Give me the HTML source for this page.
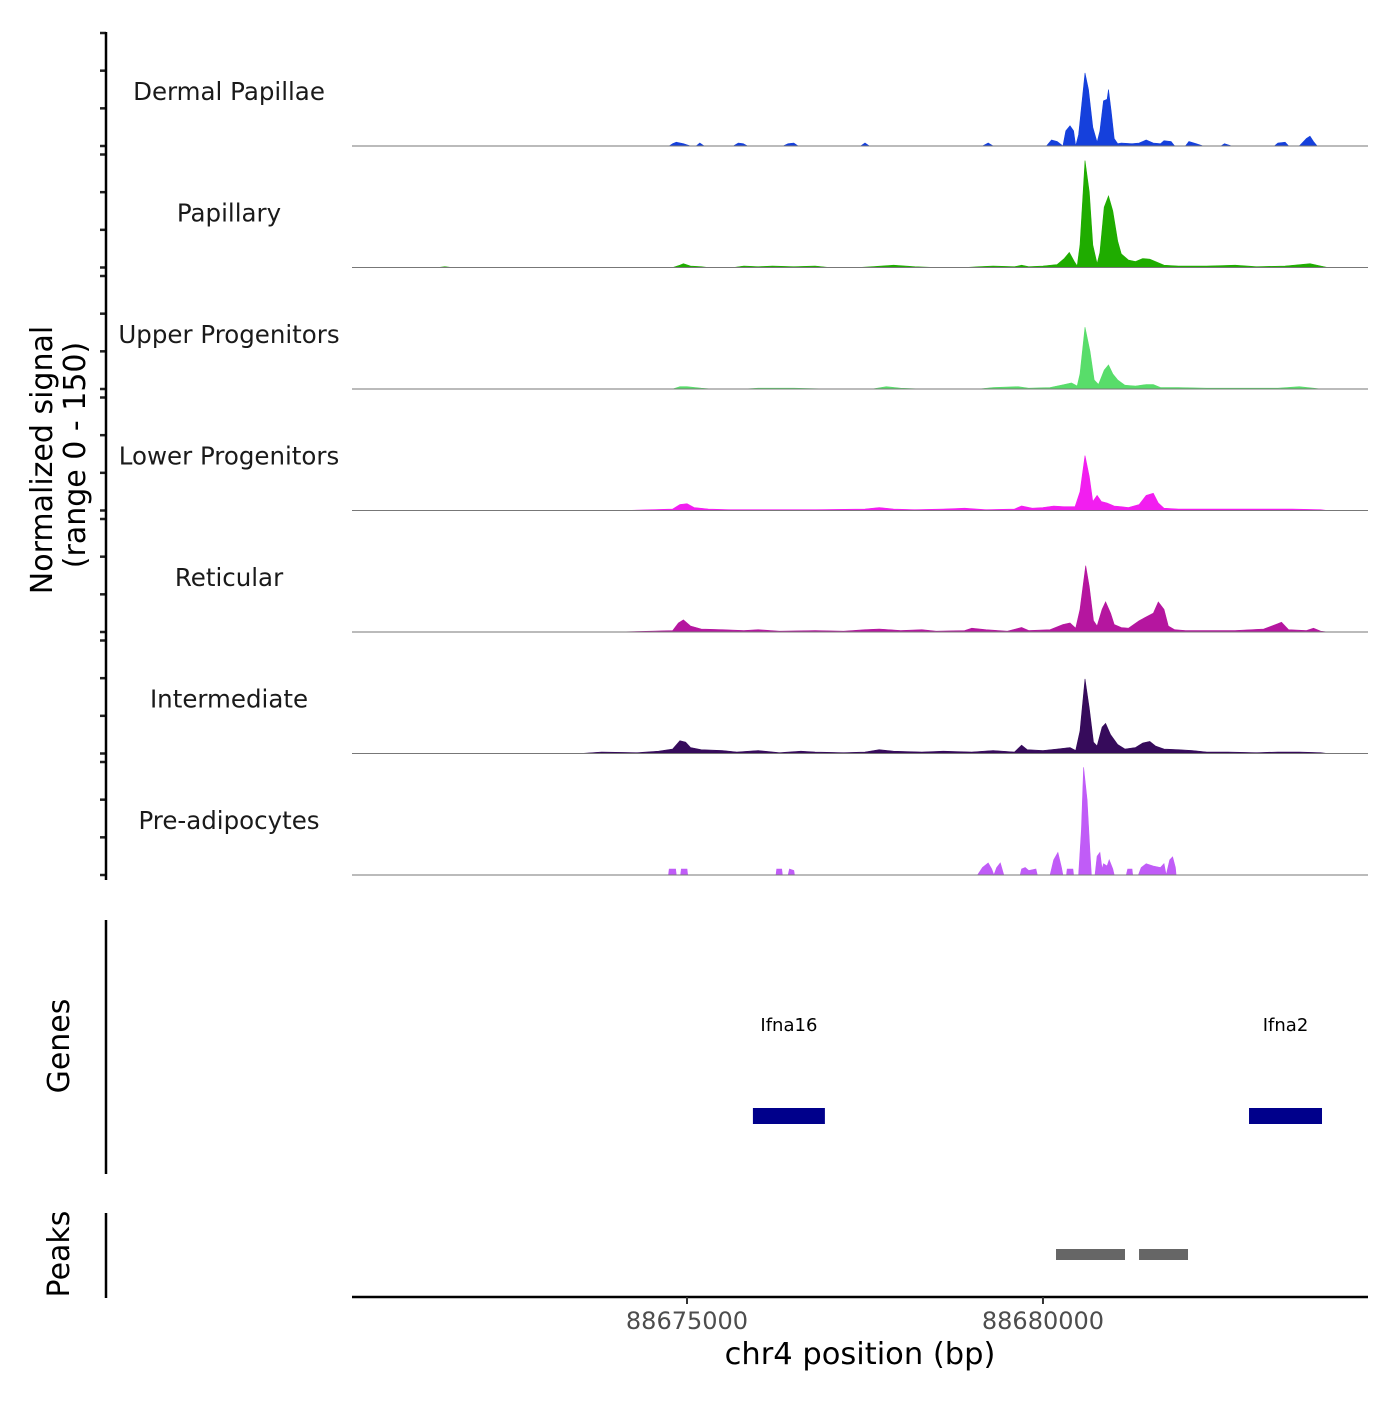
<!DOCTYPE html>
<html><head><meta charset="utf-8"><style>
body{margin:0;background:#fff}
svg{font-family:"DejaVu Sans","Liberation Sans",sans-serif}
</style></head><body>
<svg id="chart" width="1400" height="1400" viewBox="0 0 1400 1400">
<g id="tracks"></g>
<g id="axes"></g>
</svg>
<script>
const trackNames = ["Dermal Papillae","Papillary","Upper Progenitors","Lower Progenitors","Reticular","Intermediate","Pre-adipocytes"];
const trackColors = ["#1540dc","#1fac00","#58dd6a","#f21ef0","#b5169f","#360b5b","#c05cf7"];
const yTicks = [0,50,100,150];
const xTicks = [88675000,88680000];
const xDomain = [88670295,88684565];
const yMax = 150;
const dermal = [[88674750,0],[88674800,3],[88674850,5],[88674950,3],[88675050,0],[88675130,0],[88675180,4],[88675240,0],[88675650,0],[88675720,4],[88675790,3],[88675850,0],[88676350,0],[88676420,3],[88676500,4],[88676560,0],[88677440,0],[88677500,4],[88677560,0],[88679150,0],[88679230,4],[88679300,0],[88680050,0],[88680120,8],[88680200,6],[88680280,0],[88680320,20],[88680380,27],[88680430,20],[88680460,0],[88680500,15],[88680590,97],[88680640,75],[88680700,25],[88680760,5],[88680800,20],[88680850,60],[88680900,62],[88680920,75],[88680960,45],[88681000,10],[88681050,3],[88681100,4],[88681250,3],[88681350,4],[88681450,8],[88681550,4],[88681650,3],[88681700,7],[88681800,6],[88681850,0],[88682000,0],[88682050,6],[88682150,3],[88682250,0],[88682500,0],[88682550,3],[88682650,0],[88683250,0],[88683300,4],[88683400,5],[88683450,0],[88683600,0],[88683650,5],[88683700,10],[88683750,13],[88683800,6],[88683850,0]];
const papillary = [[88671500,0],[88671600,1],[88671700,0],[88674800,0],[88674900,3],[88674950,5],[88675050,2],[88675200,1],[88675300,0],[88675650,0],[88675800,2],[88676000,1],[88676200,2],[88676500,1],[88676800,2],[88677000,0],[88677400,0],[88677600,1],[88677900,3],[88678200,1],[88678500,0],[88678900,0],[88679100,1],[88679300,2],[88679600,1],[88679700,3],[88679800,1],[88680000,2],[88680200,4],[88680300,12],[88680370,20],[88680440,8],[88680480,2],[88680520,30],[88680590,142],[88680650,100],[88680700,30],[88680760,5],[88680800,20],[88680860,80],[88680920,95],[88680980,75],[88681050,35],[88681100,18],[88681200,10],[88681300,8],[88681400,12],[88681500,11],[88681600,7],[88681700,3],[88681900,2],[88682300,2],[88682700,3],[88683000,1],[88683400,2],[88683750,5],[88683900,2],[88684000,0]];
const upper = [[88674800,0],[88674900,3],[88675000,3],[88675200,1],[88675350,0],[88675800,0],[88676000,1],[88676500,1],[88677000,0],[88677600,0],[88677800,3],[88678000,1],[88678300,0],[88679100,0],[88679300,2],[88679650,3],[88679800,1],[88680100,2],[88680300,6],[88680400,8],[88680480,4],[88680520,20],[88680590,82],[88680660,50],[88680720,12],[88680780,6],[88680860,25],[88680920,32],[88680980,20],[88681050,12],[88681150,5],[88681300,4],[88681450,6],[88681550,6],[88681650,2],[88681900,2],[88682300,1],[88682800,1],[88683300,1],[88683600,3],[88683800,1],[88683900,0]];
const lower = [[88674100,0],[88674500,1],[88674800,2],[88674900,8],[88675000,9],[88675100,4],[88675300,2],[88675600,1],[88676200,1],[88676800,1],[88677500,2],[88677700,4],[88677900,2],[88678200,1],[88678600,2],[88678900,3],[88679200,1],[88679600,2],[88679700,6],[88679850,3],[88680000,4],[88680150,6],[88680300,5],[88680450,5],[88680520,25],[88680590,73],[88680650,45],[88680700,12],[88680760,20],[88680820,12],[88680900,10],[88681000,6],[88681100,5],[88681200,4],[88681350,8],[88681450,20],[88681550,23],[88681620,10],[88681700,3],[88681900,2],[88682300,2],[88682800,2],[88683200,2],[88683500,2],[88683900,1],[88684000,0]];
const reticular = [[88674000,0],[88674500,1],[88674800,2],[88674880,12],[88674950,16],[88675050,8],[88675200,4],[88675500,3],[88675800,2],[88676000,3],[88676300,1],[88676800,2],[88677200,1],[88677500,3],[88677700,4],[88678000,2],[88678300,3],[88678500,1],[88678900,2],[88679000,5],[88679200,3],[88679500,1],[88679700,6],[88679800,2],[88680100,3],[88680280,10],[88680380,12],[88680460,5],[88680520,30],[88680600,88],[88680650,60],[88680710,15],[88680760,8],[88680830,30],[88680880,40],[88680950,25],[88681000,10],[88681100,6],[88681200,5],[88681350,15],[88681450,20],[88681550,25],[88681620,40],[88681700,30],[88681760,8],[88681850,3],[88682000,2],[88682400,2],[88682700,2],[88683100,4],[88683300,11],[88683350,13],[88683450,3],[88683700,2],[88683800,5],[88683900,1],[88684000,0]];
const intermediate = [[88673500,0],[88673800,2],[88674300,1],[88674600,3],[88674800,6],[88674900,17],[88674980,15],[88675050,8],[88675200,5],[88675500,4],[88675700,2],[88676000,4],[88676300,1],[88676600,3],[88676800,2],[88677200,1],[88677500,2],[88677700,5],[88677900,3],[88678300,2],[88678600,3],[88679000,2],[88679300,4],[88679600,2],[88679700,11],[88679780,5],[88680000,4],[88680200,6],[88680380,8],[88680460,4],[88680520,30],[88680590,99],[88680650,60],[88680710,15],[88680760,10],[88680830,35],[88680880,40],[88680950,25],[88681050,12],[88681150,6],[88681300,8],[88681400,14],[88681500,16],[88681580,10],[88681700,6],[88681900,5],[88682100,4],[88682300,2],[88682600,2],[88683000,1],[88683300,2],[88683600,2],[88683900,1],[88684000,0]];
const preadipo = [[88674740,0],[88674750,8],[88674840,8],[88674850,0],[88674910,0],[88674920,8],[88675000,8],[88675010,0],[88676250,0],[88676260,8],[88676330,8],[88676340,0],[88676420,0],[88676440,8],[88676500,6],[88676510,0],[88679080,0],[88679150,10],[88679230,16],[88679280,8],[88679310,0],[88679350,10],[88679400,16],[88679450,0],[88679680,0],[88679700,8],[88679750,10],[88679800,6],[88679900,8],[88679920,0],[88680100,0],[88680150,20],[88680210,30],[88680260,10],[88680280,0],[88680330,0],[88680340,8],[88680420,8],[88680430,0],[88680500,0],[88680540,60],[88680570,143],[88680620,100],[88680660,30],[88680680,0],[88680730,0],[88680760,25],[88680800,30],[88680830,8],[88680850,15],[88680900,12],[88680930,20],[88680980,8],[88681000,0],[88681170,0],[88681190,8],[88681250,8],[88681260,0],[88681340,0],[88681380,10],[88681450,15],[88681550,12],[88681650,10],[88681700,15],[88681730,0],[88681750,8],[88681780,20],[88681820,24],[88681860,10],[88681870,0]];
const trackData = [dermal,papillary,upper,lower,reticular,intermediate,preadipo];
const geneNames = ["Ifna16","Ifna2"];
const geneStarts = [88675926,88682894];
const geneEnds = [88676937,88683919];
const peakStarts = [88680183,88681349];
const peakEnds = [88681152,88682037];

const NS="http://www.w3.org/2000/svg";
const X0=352,X1=1368;
function x(bp){return X0+(bp-xDomain[0])/(xDomain[1]-xDomain[0])*(X1-X0);}
const base0=146, trackStep=121.5, trackH=113;
function y(i,v){return base0+i*trackStep - v/yMax*trackH;}
function mk(tag,attrs,parent,text){const e=document.createElementNS(NS,tag);for(const k in attrs)e.setAttribute(k,attrs[k]);if(text!==undefined)e.textContent=text;parent.appendChild(e);return e;}
const T=document.getElementById('tracks'), A=document.getElementById('axes');

trackData.forEach((pts,i)=>{
  const g=mk('g',{},T);
  
  
  const b=y(i,0);
  let d='M'+x(pts[0][0]).toFixed(1)+','+b;
  pts.forEach(p=>{d+=' L'+x(p[0]).toFixed(1)+','+y(i,p[1]).toFixed(1);});
  d+=' L'+x(pts[pts.length-1][0]).toFixed(1)+','+b+' Z';
  const a=mk('path',{d:d,fill:trackColors[i],stroke:trackColors[i],'stroke-width':0.6},g);
  
  
  const bl=mk('line',{x1:X0,x2:X1,y1:b,y2:b,stroke:'#777','stroke-width':1},g);
  
  
  const lb=mk('text',{x:229,y:b-55+9,'text-anchor':'middle','font-size':24.5,fill:'#1a1a1a'},g,trackNames[i]);
  
  
  yTicks.forEach(t=>{
    const tk=mk('line',{x1:100,x2:106,y1:y(i,t),y2:y(i,t),stroke:'#222','stroke-width':2.5},A);
    
    
  });
});
function line(x1,y1,x2,y2,name,w,c){const l=mk('line',{x1:x1,y1:y1,x2:x2,y2:y2,stroke:c||'#000','stroke-width':w||2.5},A);return l;}
line(106,32,106,880,'y-axis-signal');
line(106,920,106,1174,'y-axis-genes');
line(106,1213,106,1298,'y-axis-peaks');
line(352,1297,1368,1297,'x-axis');
xTicks.forEach(t=>{
  line(x(t),1297,x(t),1304,'x-tick',2,'#333');
  const tl=mk('text',{x:x(t),y:1329,'text-anchor':'middle','font-size':24,fill:'#4d4d4d'},A,String(t));
  
  
});
geneNames.forEach((n,i)=>{
  const r=mk('rect',{x:x(geneStarts[i]),y:1108,width:x(geneEnds[i])-x(geneStarts[i]),height:16,fill:'#00008b'},A);
  
  
  const t=mk('text',{x:(x(geneStarts[i])+x(geneEnds[i]))/2,y:1031,'text-anchor':'middle','font-size':18,fill:'#000'},A,n);
  
  
});
peakStarts.forEach((s,i)=>{
  const r=mk('rect',{x:x(s),y:1249,width:x(peakEnds[i])-x(s),height:11,fill:'#666'},A);
  
  
});
function rt(txt,cx,cy,name,size){const t=mk('text',{x:cx,y:cy,'text-anchor':'middle','font-size':size||30,fill:'#000',transform:'rotate(-90 '+cx+' '+cy+')'},A,txt);}
rt('Normalized signal',52,460,'y-axis-title');
rt('(range 0 - 150)',85,455,'y-axis-subtitle');
rt('Genes',69,1046,'genes-axis-title');
rt('Peaks',69,1254,'peaks-axis-title');
const xt=mk('text',{x:860,y:1364,'text-anchor':'middle','font-size':30.5,fill:'#000'},A,'chr4 position (bp)');


</script>
</body></html>
